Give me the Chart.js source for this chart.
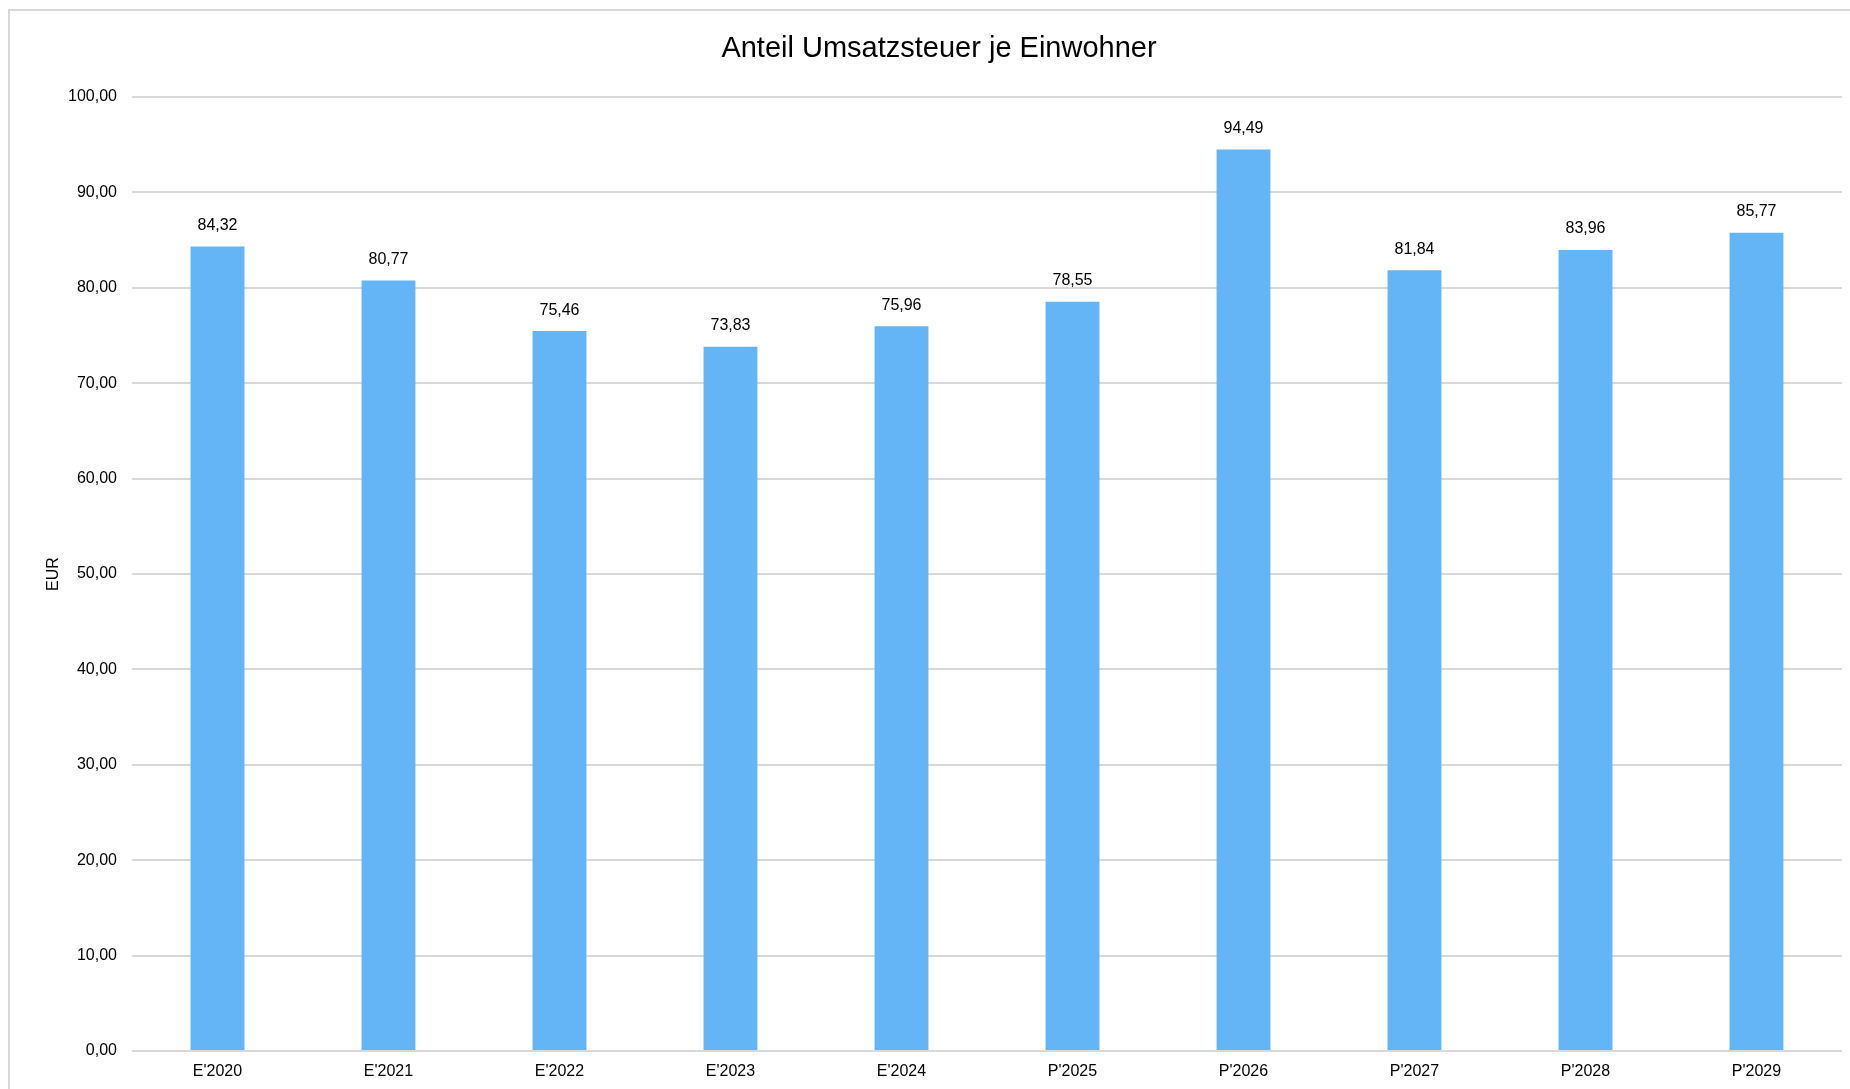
<!DOCTYPE html>
<html>
<head>
<meta charset="utf-8">
<script src="https://cdn.jsdelivr.net/npm/chart.js@4.4.1/dist/chart.umd.min.js"></script>
<style>
  html, body { margin: 0; padding: 0; background: #fff; }
  #wrap { position: relative; width: 1850px; height: 1089px; overflow: hidden; }
  #frame { position: absolute; left: 8px; top: 9px; width: 1900px; height: 1200px;
           border-left: 2px solid #d9d9d9; border-top: 2px solid #d9d9d9; box-sizing: border-box; }
  canvas { position: absolute; left: 0; top: 0; }
</style>
</head>
<body>
<div id="wrap">
  <div id="frame"></div>
  <canvas id="chart" width="1850" height="1089"></canvas>
</div>
<script>
const categories = ["E'2020", "E'2021", "E'2022", "E'2023", "E'2024", "P'2025", "P'2026", "P'2027", "P'2028", "P'2029"];
const values = [84.32, 80.77, 75.46, 73.83, 75.96, 78.55, 94.49, 81.84, 83.96, 85.77];
const yTicks = [0, 10, 20, 30, 40, 50, 60, 70, 80, 90, 100];

const fmt = v => v.toFixed(2).replace('.', ',');
const fontFamily = '"Liberation Sans", Arial, Helvetica, sans-serif';

// simple value labels above bars
const barLabels = {
  id: 'barLabels',
  afterDatasetsDraw(chart) {
    const ctx = chart.ctx;
    const meta = chart.getDatasetMeta(0);
    ctx.save();
    ctx.font = '16px ' + fontFamily;
    ctx.fillStyle = '#000';
    ctx.textAlign = 'center';
    ctx.textBaseline = 'middle';
    meta.data.forEach((bar, i) => {
      ctx.fillText(fmt(values[i]), bar.x, bar.y - 21);
    });
    ctx.restore();
  }
};

Chart.defaults.font.family = fontFamily;
Chart.defaults.color = '#000';

new Chart(document.getElementById('chart').getContext('2d'), {
  type: 'bar',
  data: {
    labels: categories,
    datasets: [{
      data: values,
      backgroundColor: '#64B5F6',
      barPercentage: 0.315,
      categoryPercentage: 1
    }]
  },
  options: {
    responsive: false,
    animation: false,
    layout: { padding: { left: 36, right: 8, top: 0, bottom: 0 } },
    plugins: {
      legend: { display: false },
      tooltip: { enabled: false },
      title: {
        display: true,
        text: 'Anteil Umsatzsteuer je Einwohner',
        font: { size: 29, weight: 'normal' },
        color: '#000',
        padding: { top: 32, bottom: 30.2 }
      }
    },
    scales: {
      x: {
        grid: { display: false },
        border: { display: false },
        ticks: { font: { size: 16 }, padding: 3, color: '#000' },
        afterFit: s => { s.height = 38; }
      },
      y: {
        min: 0,
        max: 100,
        afterBuildTicks: s => { s.ticks = yTicks.map(v => ({ value: v })); },
        grid: { color: '#d9d9d9', lineWidth: 2, drawTicks: false },
        border: { display: false },
        ticks: { font: { size: 16 }, padding: 15, color: '#000', callback: v => fmt(v) },
        title: {
          display: true,
          text: 'EUR',
          font: { size: 16 },
          color: '#000',
          padding: { top: 8, bottom: 0 }
        },
        afterFit: s => { s.width = 96; }
      }
    }
  },
  plugins: [barLabels]
});
</script>
</body>
</html>
